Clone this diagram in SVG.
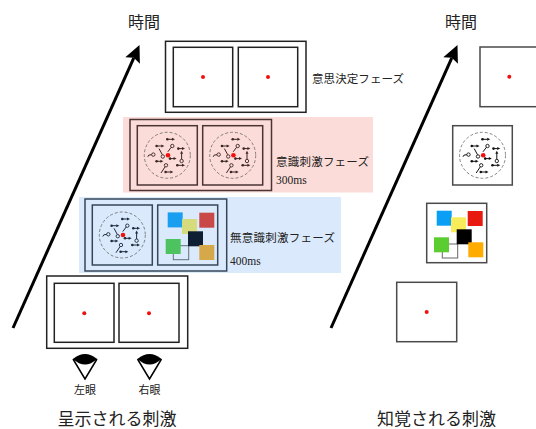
<svg xmlns="http://www.w3.org/2000/svg" xmlns:xlink="http://www.w3.org/1999/xlink" width="536" height="429" viewBox="0 0 536 429">
  <style>
    .jp { font-family: "Noto Sans CJK JP", "Noto Sans", sans-serif; fill: #222; }
    .num { font-family: "Liberation Serif", serif; fill: #222; }
    .frame { fill: #fff; stroke: #222; stroke-width: 1.5; }
    .pframe { fill: #fbdcd8; stroke: #4a3434; stroke-width: 1.5; }
    .bframe { fill: #dae9fb; stroke: #35475a; stroke-width: 1.5; }
    .sbox { fill: #fff; stroke: #4a4a4a; stroke-width: 1.5; }
    .fix { fill: #f01010; }
    .ring { fill: none; stroke: #666; stroke-width: 0.8; stroke-dasharray: 3 2; }
    .ln { fill: none; stroke: currentColor; stroke-width: 1; }
    .dt { fill: currentColor; }
    .oc { fill: none; stroke: currentColor; stroke-width: 0.9; }
    .axis { stroke: #000; stroke-width: 3; }
  </style>
  <defs>
    <!-- dashed neuron-field icon, centred on (0,0) -->
    <g id="net">
      <circle class="ring" r="23"/>
      <!-- dot-arrows pointing right -->
      <g>
        <circle class="dt" cx="0" cy="-16" r="1.3"/><path class="ln" d="M0,-16H5.2"/><path class="dt" d="M7.7,-16l-3,-1.5v3z"/>
        <circle class="dt" cx="-10.7" cy="-9.3" r="1.3"/><path class="ln" d="M-10.7,-9.3H-5.5"/><path class="dt" d="M-3,-9.3l-3,-1.5v3z"/>
        <circle class="dt" cx="11" cy="-6.7" r="1.3"/><path class="ln" d="M11,-6.7H15.2"/><path class="dt" d="M17.7,-6.7l-3,-1.5v3z"/>
        <circle class="dt" cx="2.7" cy="3.3" r="1.3"/><path class="ln" d="M2.7,3.3H6.8"/><path class="dt" d="M9.3,3.3l-3,-1.5v3z"/>
        <circle class="dt" cx="-10.7" cy="6" r="1.3"/><path class="ln" d="M-10.7,6H-6.5"/><path class="dt" d="M-4,6l-3,-1.5v3z"/>
        <circle class="dt" cx="10" cy="10" r="1.3"/><path class="ln" d="M10,10H15.2"/><path class="dt" d="M17.7,10l-3,-1.5v3z"/>
        <circle class="dt" cx="-1.7" cy="16.7" r="1.3"/><path class="ln" d="M-1.7,16.7H3.5"/><path class="dt" d="M6,16.7l-3,-1.5v3z"/>
      </g>
      <!-- upward arrow from an open terminal -->
      <circle class="oc" cx="14.3" cy="5.7" r="1.7"/>
      <path class="ln" d="M14.3,4V-2"/><path class="dt" d="M14.3,-4.5l-1.5,3h3z"/>
      <!-- open terminals on short stems -->
      <circle class="oc" cx="5" cy="-9.3" r="1.7"/><path class="ln" d="M3.9,-8L0.5,-3.5"/>
      <circle class="oc" cx="-14" cy="-0.7" r="1.7"/><path class="ln" d="M-15.7,-0.6L-18.5,-0.2L-19.5,1.5"/>
      <path class="ln" d="M-8.3,-6.7L-5,-0.6"/><circle class="oc" cx="-4.5" cy="1.2" r="1.7"/>
      <circle class="oc" cx="-1.3" cy="10" r="1.7"/><path class="ln" d="M-2.2,11.5L-6.3,17.7"/>
      <!-- fixation point -->
      <circle class="fix" cx="0.7" cy="0" r="2.3"/>
    </g>
    <!-- eye glyph, tip at (0,0) -->
    <g id="eye">
      <path d="M-12,-20 Q0,-30 12,-20 Q0,-9 -12,-20Z" fill="#000"/>
      <path d="M-12,-20 L0,0 L12,-20" fill="none" stroke="#000" stroke-width="1.5" stroke-linejoin="miter"/>
    </g>
  </defs>

  <!-- time axes -->
  <g id="axes">
    <line class="axis" x1="13" y1="328" x2="133.8" y2="57.8"/>
    <path d="M139.5,45 L139.9,63.8 L133.8,57.8 L125.3,57.3Z" fill="#000"/>
    <line class="axis" x1="331" y1="328" x2="451.8" y2="57.8"/>
    <path d="M457.5,45 L457.9,63.8 L451.8,57.8 L443.3,57.3Z" fill="#000"/>
  </g>
  <text class="jp" x="144" y="28" font-size="16" text-anchor="middle">時間</text>
  <text class="jp" x="461" y="28" font-size="16" text-anchor="middle">時間</text>

  <!-- decision phase -->
  <g id="decision">
    <rect class="frame" x="165.5" y="41.3" width="140.5" height="71"/>
    <rect class="frame" x="173.3" y="47.3" width="59.4" height="59.4"/>
    <rect class="frame" x="238.3" y="47.3" width="59.4" height="59.4"/>
    <circle class="fix" cx="203" cy="77" r="2"/>
    <circle class="fix" cx="268" cy="77" r="2"/>
    <text class="jp" x="312" y="83" font-size="11.5" textLength="92">意思決定フェーズ</text>
  </g>

  <!-- conscious stimulus phase -->
  <g id="conscious">
    <rect x="123" y="117" width="250" height="75.5" fill="#fbdcd8"/>
    <rect class="pframe" x="130" y="119.5" width="141.5" height="71"/>
    <rect class="pframe" x="137.3" y="125.7" width="60" height="59.3"/>
    <rect class="pframe" x="202.7" y="125.7" width="60" height="59.3"/>
    <use xlink:href="#net" x="167.3" y="155.3" color="#3a2626"/>
    <use xlink:href="#net" x="232.7" y="155.3" color="#3a2626"/>
    <text class="jp" x="276" y="166" font-size="11.5" textLength="93">意識刺激フェーズ</text>
    <text class="num" x="276" y="184" font-size="11.5">300ms</text>
  </g>

  <!-- unconscious stimulus phase -->
  <g id="unconscious">
    <rect x="79" y="197" width="262" height="76" fill="#dae9fb"/>
    <rect class="bframe" x="85" y="199" width="141.7" height="72"/>
    <rect class="bframe" x="92.3" y="205" width="60" height="60"/>
    <rect class="bframe" x="157.7" y="205" width="60" height="60"/>
    <use xlink:href="#net" x="122.3" y="235" color="#1e2c3c"/>
    <g transform="translate(157.7,205)">
      <rect x="10" y="7.4" width="15" height="15" fill="#1a9ef0"/>
      <rect x="24.3" y="14" width="15" height="15" fill="#d6dc7e"/>
      <rect x="41.6" y="7.7" width="15" height="15" fill="#c94848"/>
      <rect x="15.6" y="40.7" width="15.4" height="14" fill="none" stroke="#66707c" stroke-width="1"/>
      <rect x="8" y="34" width="15" height="15" fill="#4cc35e"/>
      <rect x="30.3" y="26.3" width="15" height="15" fill="#0f1f33"/>
      <rect x="41.6" y="40" width="15" height="15" fill="#d5a94a"/>
    </g>
    <text class="jp" x="230" y="242" font-size="11.5" textLength="105">無意識刺激フェーズ</text>
    <text class="num" x="230" y="265" font-size="11.5">400ms</text>
  </g>

  <!-- presented stimulus -->
  <g id="presented">
    <rect class="frame" x="46.7" y="276" width="141" height="72.3"/>
    <rect class="frame" x="54.3" y="283.3" width="59.7" height="59"/>
    <rect class="frame" x="119" y="283.3" width="60" height="59"/>
    <circle class="fix" cx="84.3" cy="313.3" r="2"/>
    <circle class="fix" cx="149" cy="313.3" r="2"/>
  </g>
  <g id="eye-left">
    <use xlink:href="#eye" x="85" y="379"/>
    <text class="jp" x="85" y="394" font-size="11" text-anchor="middle">左眼</text>
  </g>
  <g id="eye-right">
    <use xlink:href="#eye" x="149.5" y="379"/>
    <text class="jp" x="149.5" y="394" font-size="11" text-anchor="middle">右眼</text>
  </g>
  <text class="jp" x="117" y="425" font-size="17" text-anchor="middle">呈示される刺激</text>

  <!-- perceived stimulus column -->
  <g id="perceived-decision">
    <rect class="sbox" x="480" y="47" width="60" height="59.7"/>
    <circle class="fix" cx="509.3" cy="76.7" r="2"/>
  </g>
  <g id="perceived-conscious">
    <rect class="sbox" x="452.7" y="125.7" width="59.6" height="59.3"/>
    <use xlink:href="#net" x="482.5" y="155.3" color="#111"/>
  </g>
  <g id="perceived-unconscious">
    <rect class="sbox" x="426.7" y="203.3" width="60" height="59.4"/>
    <g transform="translate(426.7,203.3)">
      <rect x="10" y="7.4" width="15" height="15" fill="#0a9ef5"/>
      <rect x="24.3" y="14" width="15" height="15" fill="#f8ec5a"/>
      <rect x="41" y="7.7" width="15" height="15" fill="#e8190e"/>
      <rect x="15.6" y="40.7" width="15.4" height="14" fill="none" stroke="#666" stroke-width="1"/>
      <rect x="7.3" y="34" width="15" height="15" fill="#5ccd30"/>
      <rect x="30" y="26" width="15" height="15" fill="#000"/>
      <rect x="41.6" y="39" width="15" height="15" fill="#ffab00"/>
    </g>
  </g>
  <g id="perceived-blank">
    <rect class="sbox" x="396.7" y="282.3" width="60" height="59.4"/>
    <circle class="fix" cx="426.7" cy="312" r="2"/>
  </g>
  <text class="jp" x="436.5" y="425" font-size="17" text-anchor="middle">知覚される刺激</text>
</svg>
